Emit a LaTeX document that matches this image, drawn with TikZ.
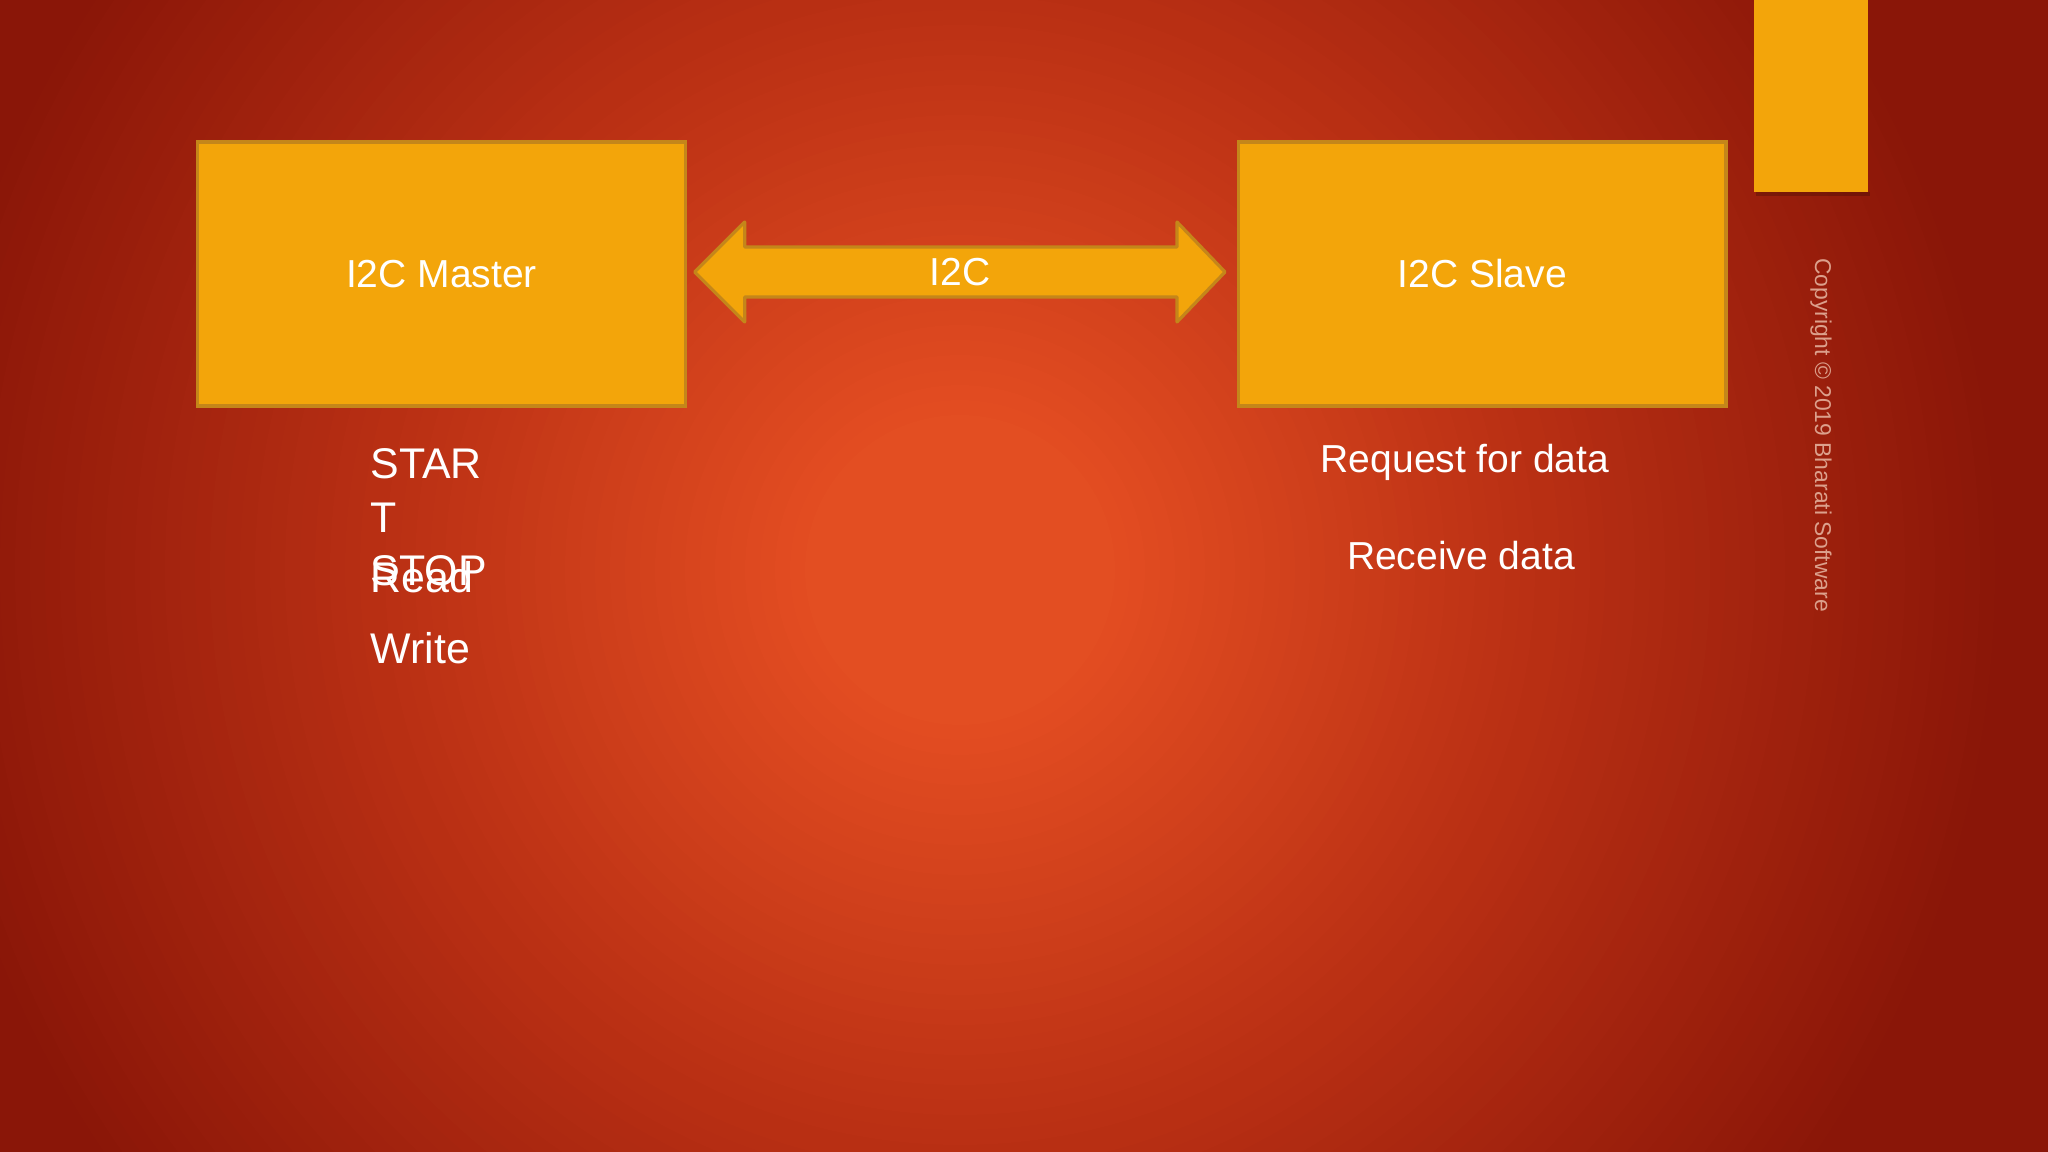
\documentclass[tikz,border=0pt]{standalone}
\usepackage{fontspec}
\setmainfont{Liberation Sans}
\usepackage{tikz}
\usetikzlibrary{positioning, calc}

\definecolor{bgin}{RGB}{228,78,34}
\definecolor{bgmid}{RGB}{186,48,20}
\definecolor{bgout}{RGB}{138,22,8}
\definecolor{blockorange}{RGB}{243,165,10}
\definecolor{blockedge}{RGB}{196,134,26}
\definecolor{copytext}{RGB}{220,160,140}

\begin{document}
\begin{tikzpicture}[x=0.01cm, y=-0.01cm,
	block/.style={rectangle, draw=blockedge, fill=blockorange, line width=0.9pt, minimum width=4.87cm, minimum height=2.64cm, text=white, font=\fontsize{11.1}{13}\selectfont},
	busarrow/.style={draw=blockedge, fill=blockorange, line width=0.9pt, line join=round},
	buslabel/.style={text=white, inner sep=0pt, font=\fontsize{11.1}{13}\selectfont},
	mastertext/.style={text=white, inner sep=0pt, anchor=base west, font=\fontsize{12.2}{15.4}\selectfont},
	slavetext/.style={text=white, inner sep=0pt, anchor=base, font=\fontsize{11.1}{13}\selectfont}]
		
		%Sfondo
		\useasboundingbox (0,0) rectangle (2048,1152);
		\fill[bgout] (0,0) rectangle (2048,1152);
		\coordinate (glow) at (960,570);
		\begin{scope}
			\clip (0,0) rectangle (2048,1152);
			\foreach \r [evaluate=\r as \p using {min(100,max(0,(\r-575)/4.75))}] in {1200,1185,...,590}
				\fill[bgout!\p!bgmid] (glow) circle (\r);
			\foreach \r [evaluate=\r as \p using {max(0,(\r-150)/4.25))}] in {575,560,...,150}
				\fill[bgmid!\p!bgin] (glow) circle (\r);
		\end{scope}
		\fill[blockorange] (1754,0) rectangle (1868,192);
		\fill[black, opacity=0.2] (1756,192) rectangle (1870,196);
		
		%Blocchi
		\node[block] (master) at (441.5,274) {I2C Master};
		\node[block, right=5.50cm of master] (slave) {I2C Slave};
		
		%Freccia del bus
		\coordinate (lefttip) at ($(master.east)+(8,-2)$);
		\coordinate (righttip) at ($(slave.west)+(-12,-2)$);
		\draw[busarrow] (lefttip) -- ++(50,-50) -- ++(0,25) -- ($(righttip)+(-48,-25)$) -- ++(0,-25) -- (righttip) -- ++(-48,50) -- ++(0,-25) -- ($(lefttip)+(50,25)$) -- ++(0,25) -- cycle;
		\node[buslabel] (i2c) at ($(lefttip)!0.5!(righttip)$) {I2C};
		
		%Testi
		\node[mastertext, align=left, anchor=north west] (start) at (370,448) {STAR\\T};
		\node[mastertext] (stop) at (370,586) {STOP};
		\node[mastertext] (read) at (370,593) {Read};
		\node[mastertext] (write) at (370,663) {Write};
		\node[slavetext] (request) at (1465,472) {Request for data};
		\node[slavetext] (receive) at (1461,570) {Receive data};
		
		\node[rotate=-90, text=copytext, inner sep=0pt, font=\fontsize{6.5}{8}\selectfont] (copyright) at (1821,435) {Copyright © 2019 Bharati Software};
		
\end{tikzpicture}
\end{document}
